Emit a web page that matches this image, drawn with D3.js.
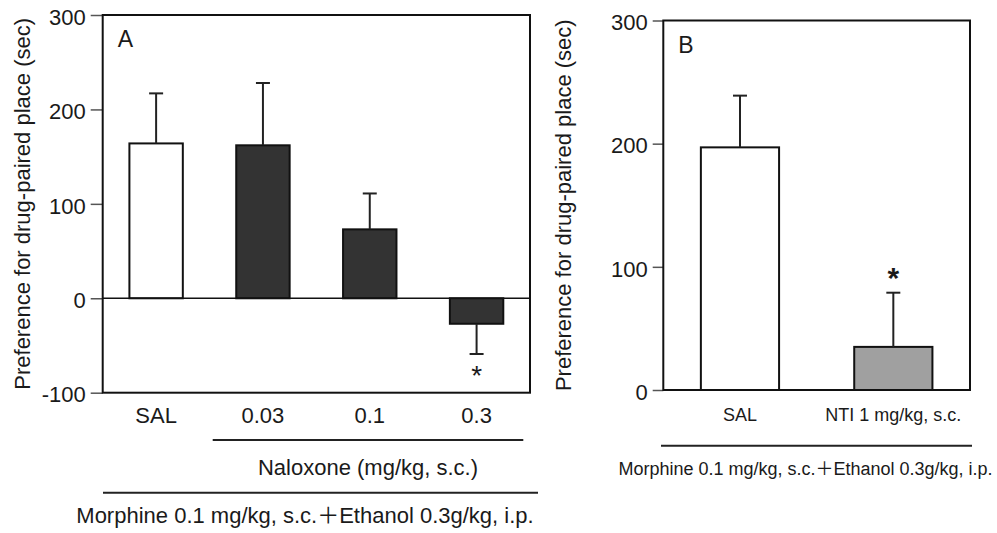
<!DOCTYPE html>
<html>
<head>
    <meta charset="utf-8">
    <title></title>
    <style>
        body { margin: 0; background: #fff; }
        text {
            font-family: "Liberation Sans", Arial, "Noto Sans CJK JP", sans-serif;
            fill: #1a1a1a;
        }
        .tick line { stroke: #555; stroke-width: 1.5px; }
        .domain { display: none; }
    </style>
</head>
<body>
    <script src="https://cdn.jsdelivr.net/npm/d3@7"></script>
    <script>
        // panel A: naloxone
        var catsA = ["SAL", "0.03", "0.1", "0.3"];
        var meanA = [164, 162, 73, -27];
        var semA = [53, 66, 38, 32];
        var sigA = [false, false, false, true];
        var ticksA = [-100, 0, 100, 200, 300];

        // panel B: NTI
        var catsB = ["SAL", "NTI 1 mg/kg, s.c."];
        var meanB = [197, 35];
        var semB = [42, 44];
        var sigB = [false, true];
        var ticksB = [0, 100, 200, 300];

        var yLabel = "Preference for drug-paired place (sec)";
        var groupA = "Naloxone (mg/kg, s.c.)";
        var treatment = "Morphine 0.1 mg/kg, s.c.\uFF0BEthanol 0.3g/kg, i.p.";

        var width = 997,
            height = 533;
        var svg = d3.select("body").append("svg")
            .attr("width", width)
            .attr("height", height);

        function panel(opt) {
            var g = svg.append("g");
            var x = d3.scaleBand()
                .domain(opt.cats)
                .range([opt.left, opt.right])
                .paddingInner(opt.pi)
                .paddingOuter(opt.po);
            var y = d3.scaleLinear()
                .domain(opt.domain)
                .range([opt.bottom, opt.top]);

            var axis = g.append("g")
                .attr("transform", "translate(" + opt.left + ",0)")
                .call(d3.axisLeft(y).tickValues(opt.ticks).tickSize(opt.tickLen).tickPadding(5)
                    .tickFormat(function(d) { return String(d); }));
            axis.selectAll("text")
                .style("font-size", "22px")
                .attr("dy", "0.42em")
                .attr("fill", "#1a1a1a");

            var rows = opt.cats.map(function(c, i) {
                return { cat: c, mean: opt.mean[i], sem: opt.sem[i], sig: opt.sig[i] };
            });

            // bars
            g.selectAll("rect.bar")
                .data(rows)
                .enter().append("rect")
                .attr("class", "bar")
                .attr("x", function(d) { return x(d.cat); })
                .attr("width", x.bandwidth())
                .attr("y", function(d) { return Math.min(y(d.mean), y(0)); })
                .attr("height", function(d) { return Math.abs(y(d.mean) - y(0)); })
                .attr("fill", opt.fill)
                .attr("stroke", "#111")
                .attr("stroke-width", 2);

            // error bars
            var err = g.selectAll("g.err")
                .data(rows)
                .enter().append("g")
                .attr("class", "err")
                .attr("stroke", "#222")
                .attr("stroke-width", 2);
            err.append("line")
                .attr("x1", function(d) { return x(d.cat) + x.bandwidth() / 2; })
                .attr("x2", function(d) { return x(d.cat) + x.bandwidth() / 2; })
                .attr("y1", function(d) { return y(d.mean); })
                .attr("y2", function(d) { return y(d.mean + (d.mean < 0 ? -d.sem : d.sem)); });
            err.append("line")
                .attr("x1", function(d) { return x(d.cat) + x.bandwidth() / 2 - 7; })
                .attr("x2", function(d) { return x(d.cat) + x.bandwidth() / 2 + 7; })
                .attr("y1", function(d) { return y(d.mean + (d.mean < 0 ? -d.sem : d.sem)); })
                .attr("y2", function(d) { return y(d.mean + (d.mean < 0 ? -d.sem : d.sem)); });

            // significance marks
            g.selectAll("text.sig")
                .data(rows.filter(function(d) { return d.sig; }))
                .enter().append("text")
                .attr("class", "sig")
                .attr("text-anchor", "middle")
                .attr("x", function(d) { return x(d.cat) + x.bandwidth() / 2; })
                .attr("y", function(d) {
                    var e = y(d.mean + (d.mean < 0 ? -d.sem : d.sem));
                    return d.mean < 0 ? e + opt.sigGap : e - opt.sigGap;
                })
                .style("font-size", opt.sigSize + "px")
                .style("font-weight", opt.sigWeight)
                .attr("fill", opt.sigColor)
                .text("*");

            // zero line and frame
            if (opt.domain[0] < 0) {
                g.append("line")
                    .attr("x1", opt.left).attr("x2", opt.right)
                    .attr("y1", y(0)).attr("y2", y(0))
                    .attr("stroke", "#111").attr("stroke-width", 1.5);
            }
            g.append("rect")
                .attr("x", opt.left).attr("y", opt.top)
                .attr("width", opt.right - opt.left)
                .attr("height", opt.bottom - opt.top)
                .attr("fill", "none")
                .attr("stroke", "#111")
                .attr("stroke-width", 2);

            // category labels
            g.selectAll("text.cat")
                .data(opt.cats)
                .enter().append("text")
                .attr("class", "cat")
                .attr("text-anchor", "middle")
                .attr("x", function(d) { return x(d) + x.bandwidth() / 2; })
                .attr("y", opt.catY)
                .style("font-size", opt.catSize + "px")
                .text(function(d) { return d; });

            // y label
            g.append("text")
                .attr("transform", "translate(" + opt.ylabX + "," + ((opt.top + opt.bottom) / 2) + ") rotate(-90)")
                .attr("text-anchor", "middle")
                .attr("dy", "0.35em")
                .style("font-size", "22px")
                .text(yLabel);

            // panel letter
            g.append("text")
                .attr("x", opt.left + 15)
                .attr("y", opt.top + 32)
                .style("font-size", "23px")
                .text(opt.letter);

            return { x: x, y: y };
        }

        panel({
            cats: catsA, mean: meanA, sem: semA, sig: sigA, ticks: ticksA,
            domain: [-100, 300],
            left: 102.7, right: 530, top: 15, bottom: 392.7,
            pi: 0.5, po: 0.25, tickLen: 12,
            fill: function(d) { return d.cat === "SAL" ? "#fff" : "#333"; },
            sigGap: 31, sigSize: 28, sigWeight: "normal", sigColor: "#555",
            catY: 423, catSize: 22, ylabX: 22, letter: "A"
        });

        panel({
            cats: catsB, mean: meanB, sem: semB, sig: sigB, ticks: ticksB,
            domain: [0, 300],
            left: 663.3, right: 970, top: 20.5, bottom: 390,
            pi: 0.49, po: 0.245, tickLen: 10.6,
            fill: function(d) { return d.cat === "SAL" ? "#fff" : "#a0a0a0"; },
            sigGap: 5, sigSize: 30, sigWeight: "bold", sigColor: "#111",
            catY: 420.5, catSize: 18, ylabX: 563, letter: "B"
        });

        // group brackets under panel A
        svg.append("line")
            .attr("x1", 212.7).attr("x2", 523.3)
            .attr("y1", 440).attr("y2", 440)
            .attr("stroke", "#222").attr("stroke-width", 2);
        svg.append("text")
            .attr("x", 368).attr("y", 475)
            .attr("text-anchor", "middle")
            .style("font-size", "22px")
            .text(groupA);
        svg.append("line")
            .attr("x1", 103).attr("x2", 538)
            .attr("y1", 492.7).attr("y2", 492.7)
            .attr("stroke", "#222").attr("stroke-width", 2);
        svg.append("text")
            .attr("x", 305).attr("y", 523)
            .attr("text-anchor", "middle")
            .style("font-size", "22px")
            .text(treatment);

        // bracket under panel B
        svg.append("line")
            .attr("x1", 661).attr("x2", 972)
            .attr("y1", 445.7).attr("y2", 445.7)
            .attr("stroke", "#222").attr("stroke-width", 2);
        svg.append("text")
            .attr("x", 805.5).attr("y", 475)
            .attr("text-anchor", "middle")
            .style("font-size", "18px")
            .text(treatment);
    </script>
</body>
</html>
